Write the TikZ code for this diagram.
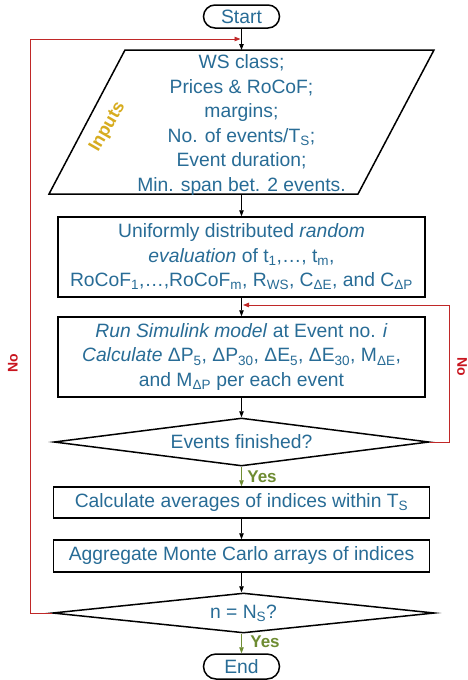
\documentclass[tikz,border=0pt]{standalone}
\usepackage{fontspec}
\setmainfont{Liberation Sans}
\usetikzlibrary{shapes.geometric,shapes.misc,arrows.meta}
\definecolor{txt}{RGB}{40,108,150}
\definecolor{lred}{RGB}{192,40,40}
\definecolor{nored}{RGB}{200,20,30}
\definecolor{yesgreen}{RGB}{110,140,50}
\definecolor{gold}{RGB}{215,172,30}
\newcommand{\mainsz}{\fontsize{19.3}{24.5}\selectfont}
\tikzset{
  box/.style={draw, line width=1.5pt, rectangle, inner sep=0pt, text=txt, align=center, font=\mainsz},
  term/.style={draw, line width=1.5pt, rounded rectangle, inner sep=0pt, text=txt, font=\mainsz, minimum width=76pt},
  dia/.style={draw, line width=1.5pt, diamond, aspect=7.8, inner sep=0pt, text=txt, font=\mainsz},
  arr/.style={-{Triangle[length=6pt,width=4.5pt]}, line width=0.9pt},
  rarr/.style={-{Triangle[length=6pt,width=4.5pt]}, line width=0.9pt, color=lred},
  garr/.style={-{Triangle[length=6pt,width=4.5pt]}, line width=0.9pt, color=yesgreen},
  nolab/.style={text=nored, font=\fontsize{14}{16}\selectfont\bfseries},
  yeslab/.style={text=yesgreen, font=\fontsize{17}{19}\selectfont\bfseries},
}
\begin{document}
\begin{tikzpicture}[x=1pt,y=-1pt]
\fill[white] (0,0) rectangle (468,680);
\useasboundingbox (0,0) rectangle (468,680);

\node[term, minimum height=23pt] (start) at (241.5,16.5) {Start};
% input parallelogram
\coordinate (ptl) at (125,50);
\coordinate (ptr) at (434,50);
\coordinate (pbr) at (358,194);
\coordinate (pbl) at (49,194);
\draw[line width=1.5pt, line join=miter] (ptl) -- (ptr) -- (pbr) -- (pbl) -- cycle;
\coordinate (inptop) at (241.5,50);
\coordinate (inpbot) at (241.5,194);
\node[text=txt, font=\mainsz, align=center, inner sep=0pt] (inptxt) at (241.5,125) {WS class;\\ Prices \& RoCoF;\\ margins;\\ No. of events/T\textsubscript{S};\\ Event duration;\\ Min. span bet. 2 events.};
\node[text=gold, font=\fontsize{18}{20}\selectfont\bfseries, rotate=60] (inlab) at (108,127) {Inputs};

\node[box, minimum width=367pt, minimum height=80pt] (b2) at (241.5,257) {Uniformly distributed \textit{random}\\ \textit{evaluation} of t\textsubscript{1},…, t\textsubscript{m},\\ RoCoF\textsubscript{1},…,RoCoF\textsubscript{m}, R\textsubscript{WS}, C\textsubscript{ΔE}, and C\textsubscript{ΔP}};
\node[box, minimum width=367pt, minimum height=80pt] (b3) at (241.5,357) {\textit{Run Simulink model} at Event no. \textit{i}\\ \textit{Calculate} ΔP\textsubscript{5}, ΔP\textsubscript{30}, ΔE\textsubscript{5}, ΔE\textsubscript{30}, M\textsubscript{ΔE},\\ and M\textsubscript{ΔP} per each event};
\node[dia, minimum width=375pt, minimum height=48pt] (d1) at (241.5,442) {Events finished?};
\node[box, minimum width=376pt, minimum height=31pt] (b4) at (241.5,502.5) {Calculate averages of indices within T\textsubscript{S}};
\node[box, minimum width=376pt, minimum height=32pt] (b5) at (241.5,556) {Aggregate Monte Carlo arrays of indices};
\node[dia, minimum width=382pt, minimum height=40pt] (d2) at (243.5,613) {n = N\textsubscript{S}?};
\node[term, minimum height=25pt] (end) at (241.5,666.5) {End};

\coordinate (j1) at (240.5,39);
\coordinate (j2) at (243,305);

\draw[arr] (start.south) -- (inptop);
\draw[arr] (inpbot) -- (b2.north);
\draw[arr] (b2.south) -- (b3.north);
\draw[arr] (b3.south) -- (b3.south |- d1.north);
\draw[garr] (b4.north |- d1.south) -- (b4.north);
\draw[arr] (b4.south) -- (b5.north);
\draw[arr] (b5.south) -- (b5.south |- d2.north);
\draw[garr] (end.north |- d2.south) -- (end.north);

\draw[rarr] (d2.west) -- ++(-21,0) |- (j1);
\draw[rarr] (d1.east) -- ++(20,0) |- (j2);

\node[nolab, rotate=90] (no1) at (13,363) {No};
\node[nolab, rotate=-90] (no2) at (462,367) {No};
\node[yeslab] (yes1) at (262,477) {Yes};
\node[yeslab] (yes2) at (265,642) {Yes};
\end{tikzpicture}
\end{document}
